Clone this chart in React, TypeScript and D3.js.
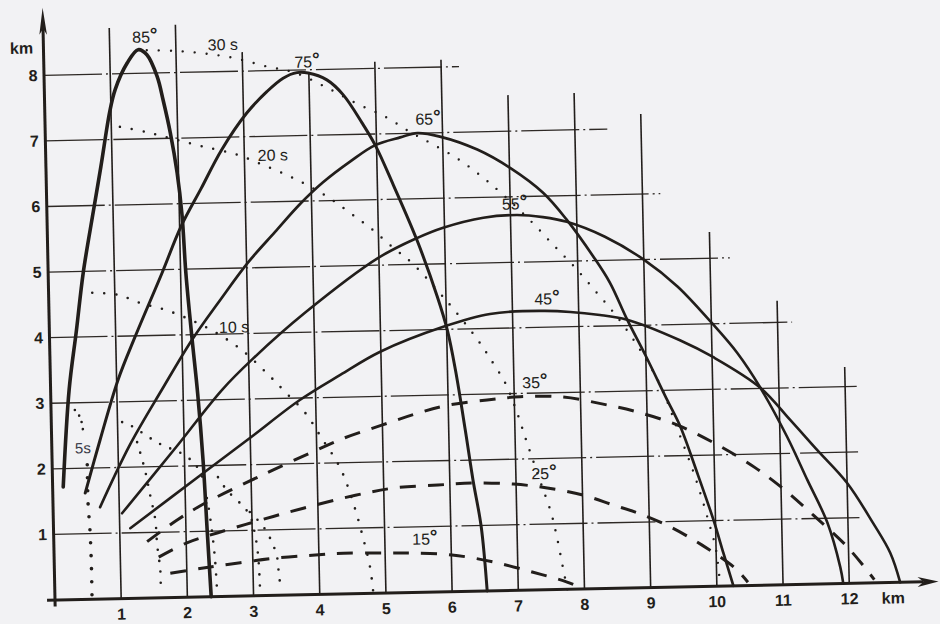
import React from 'react';
import * as d3 from 'd3';

type Pt = [number, number];

// Trajectories [horizontal distance km, height km] for each launch angle
const traj85: Pt[] = [[0.16,1.72],[0.28,3.20],[0.41,4.11],[0.53,4.98],[0.70,5.90],[0.83,6.59],[0.98,7.42],[1.07,7.76],[1.26,8.16],[1.43,8.36],[1.56,8.28],[1.71,7.94],[1.79,7.59],[1.89,7.08],[1.98,6.47],[2.04,5.83],[2.08,4.94],[2.15,3.97],[2.22,3.10],[2.28,2.09],[2.32,1.02],[2.36,0]];
const traj75: Pt[] = [[0.49,1.62],[0.73,2.42],[1.02,3.33],[1.29,3.98],[1.72,4.95],[2.02,5.65],[2.34,6.23],[2.66,6.81],[3.05,7.36],[3.36,7.68],[3.61,7.88],[3.82,7.96],[3.99,7.95],[4.27,7.84],[4.51,7.61],[4.79,7.17],[4.98,6.83],[5.24,6.22],[5.58,5.37],[5.87,4.50],[6.01,3.99],[6.12,3.38],[6.25,2.46],[6.35,1.70],[6.46,0.98],[6.53,0]];
const traj65: Pt[] = [[0.71,1.40],[1.18,2.34],[1.68,3.17],[2.15,3.92],[2.59,4.52],[3.02,5.08],[3.44,5.54],[3.83,5.96],[4.18,6.28],[4.60,6.59],[4.98,6.83],[5.36,6.94],[5.62,7.00],[5.96,6.94],[6.52,6.73],[7.01,6.44],[7.50,6.05],[7.85,5.63],[8.24,5.06],[8.48,4.66],[8.73,4.09],[9.00,3.53],[9.31,2.85],[9.50,2.44],[9.74,1.73],[9.97,1.01],[10.11,0.50],[10.25,0]];
const traj55: Pt[] = [[1.04,1.30],[1.86,2.27],[2.59,3.15],[3.05,3.60],[3.87,4.30],[4.99,5.11],[5.58,5.40],[5.98,5.55],[6.59,5.69],[7.10,5.72],[7.49,5.68],[7.85,5.60],[8.42,5.36],[9.00,5.00],[9.50,4.58],[10.00,4.02],[10.38,3.55],[10.72,3.01],[11.11,2.25],[11.40,1.59],[11.69,0.93],[11.87,0.25],[11.91,0]];
const traj45: Pt[] = [[1.16,1.07],[2.23,1.85],[3.00,2.41],[3.76,2.97],[4.38,3.34],[4.99,3.68],[5.95,4.04],[6.66,4.22],[7.49,4.25],[8.32,4.17],[8.73,4.09],[9.52,3.76],[10.02,3.49],[10.72,3.01],[11.16,2.51],[11.56,2.04],[12.00,1.53],[12.38,0.91],[12.63,0.45],[12.77,0]];
const traj35: Pt[] = [[1.41,0.86],[1.87,1.18],[2.30,1.43],[2.91,1.72],[3.33,1.91],[3.90,2.16],[4.43,2.38],[4.99,2.56],[5.50,2.72],[5.98,2.84],[6.59,2.91],[7.09,2.95],[7.74,2.93],[8.34,2.81],[8.85,2.68],[9.45,2.47],[10.06,2.15],[10.62,1.79],[11.06,1.44],[11.48,1.05],[11.98,0.56],[12.38,0.05]];
const traj25: Pt[] = [[1.58,0.62],[2.01,0.83],[2.47,0.97],[3.12,1.15],[3.78,1.32],[4.57,1.50],[5.17,1.60],[5.82,1.63],[6.35,1.65],[6.96,1.62],[7.47,1.55],[8.01,1.43],[8.46,1.27],[8.83,1.14],[9.31,0.92],[9.79,0.63],[10.28,0.27],[10.47,0.05]];
const traj15: Pt[] = [[1.75,0.37],[2.25,0.44],[2.81,0.51],[3.37,0.57],[3.90,0.60],[4.37,0.62],[4.97,0.61],[5.42,0.60],[6.01,0.56],[6.63,0.44],[7.23,0.27],[7.74,0.11],[7.98,0]];

// Positions reached after equal flight times (isochrones)
const iso30: Pt[] = [[1.56,8.35],[1.99,8.33],[2.44,8.28],[2.89,8.20],[3.34,8.07],[3.79,7.96],[4.27,7.72],[4.73,7.46],[5.14,7.26],[5.51,7.02],[5.84,6.83],[6.23,6.59],[6.60,6.30],[6.93,6.00],[7.30,5.63],[7.64,5.25],[7.96,4.90],[8.28,4.51],[8.59,4.12],[8.92,3.62],[9.21,3.08],[9.45,2.42],[9.71,1.66],[9.89,1.01],[10.00,0.55],[10.05,0]];
const iso20: Pt[] = [[1.13,7.19],[1.54,7.10],[1.93,6.99],[2.36,6.87],[2.89,6.73],[3.20,6.60],[3.56,6.44],[3.91,6.26],[4.24,6.06],[4.56,5.82],[4.88,5.57],[5.22,5.26],[5.50,5.02],[5.87,4.60],[6.10,4.32],[6.46,3.84],[6.68,3.49],[6.87,3.16],[7.04,2.70],[7.18,2.24],[7.36,1.67],[7.52,1.17],[7.60,0.80],[7.68,0.34],[7.74,0]];
const iso10: Pt[] = [[0.66,4.67],[1.05,4.63],[1.38,4.50],[1.75,4.39],[2.13,4.23],[2.52,4.02],[2.90,3.75],[3.27,3.39],[3.54,3.10],[3.84,2.77],[4.08,2.38],[4.35,1.92],[4.53,1.40],[4.67,0.86],[4.77,0.39],[4.81,0]];
const iso5Upper: Pt[] = [[0.36,2.89],[0.44,2.77],[0.48,2.55]];
const iso5Lower: Pt[] = [[0.53,2.05],[0.53,1.47],[0.55,1.06],[0.56,0.60],[0.56,0]];

// Short dotted fall lines near the vent
const fallA: Pt[] = [[1.07,2.69],[1.19,2.64],[1.61,2.36],[2.04,2.14],[2.23,1.91],[2.33,1.48],[2.39,1.02],[2.43,0.56],[2.45,0.10]];
const fallB: Pt[] = [[1.29,2.38],[1.40,1.95],[1.47,1.57],[1.54,1.19],[1.56,0.81],[1.60,0.42],[1.60,0.12]];
const fallC: Pt[] = [[2.50,1.82],[2.63,1.62],[2.85,1.39],[2.97,1.23],[3.03,1.00],[3.07,0.74],[3.09,0.47],[3.10,0.09]];
const fallD: Pt[] = [[2.97,1.28],[3.17,1.05],[3.30,0.80],[3.37,0.57],[3.39,0.31],[3.42,0.08]];

// Grid: km ticks and the extent of each grid line
const xTicks = [1, 2, 3, 4, 5, 6, 7, 8, 9, 10, 11, 12];
const verticalTops = [8.70, 8.73, 8.29, 7.95, 8.10, 8.11, 7.55, 7.56, 7.22, 5.40, 4.33, 3.30];
const yTicks = [1, 2, 3, 4, 5, 6, 7, 8];
const horizontalEnds = [12.23, 12.18, 12.20, 11.22, 10.30, 9.27, 8.49, 6.27];

// Curve annotations
const angleLabels = [
  { angle: 85, x: 1.48, y: 8.55 },
  { angle: 75, x: 3.92, y: 8.12 },
  { angle: 65, x: 5.73, y: 7.21 },
  { angle: 55, x: 7.01, y: 5.89 },
  { angle: 45, x: 7.47, y: 4.43 },
  { angle: 35, x: 7.26, y: 3.16 },
  { angle: 25, x: 7.37, y: 1.77 },
  { angle: 15, x: 5.55, y: 0.81 },
];
const timeLabels = [
  { text: '30 s', x: 2.71, y: 8.41 },
  { text: '20 s', x: 3.43, y: 6.71 },
  { text: '10 s', x: 2.79, y: 4.10 },
];
const ventLabel = { text: '5s', x: 0.47, y: 2.31 };

const INK = '#221e1b';
const FONT = '"Liberation Sans", Arial, Helvetica, sans-serif';

export default function App() {
  const W = 940;
  const H = 624;
  const x = d3.scaleLinear().domain([0, 13]).range([55, 55 + 13 * 66.2]);
  const y = d3.scaleLinear().domain([0, 9]).range([600, 600 - 9 * 65.6]);
  const line = d3
    .line<Pt>()
    .x((d) => x(d[0]))
    .y((d) => y(d[1]))
    .curve(d3.curveCatmullRom.alpha(0.5));

  const solid = [
    { d: traj85, w: 3.6 },
    { d: traj75, w: 3.0 },
    { d: traj65, w: 2.7 },
    { d: traj55, w: 2.6 },
    { d: traj45, w: 2.6 },
  ];
  const dashed = [traj35, traj25, traj15];
  const dotted = [
    { d: iso30, w: 2.4, gap: 12 },
    { d: iso20, w: 2.5, gap: 12 },
    { d: iso10, w: 2.6, gap: 12 },
    { d: iso5Upper, w: 2.6, gap: 7 },
    { d: iso5Lower, w: 3.6, gap: 13 },
    { d: fallA, w: 2.6, gap: 11 },
    { d: fallB, w: 2.6, gap: 11 },
    { d: fallC, w: 2.6, gap: 11 },
    { d: fallD, w: 2.6, gap: 11 },
  ];

  const x0 = x(0);
  const y0 = y(0);
  const yTip = y(9.03);
  const xTip = x(13.35);

  return (
    <svg
      width={W}
      height={H}
      viewBox={`0 0 ${W} ${H}`}
      style={{ position: 'absolute', left: 0, top: 0, display: 'block' }}
    >
      <rect width={W} height={H} fill="#f2f2f4" />
      <g transform={`rotate(-1.2, ${x0}, ${y0})`}>
        {/* horizontal grid, dash-dot */}
        {yTicks.map((k, i) => (
          <line
            key={`h${k}`}
            x1={x0}
            x2={x(horizontalEnds[i])}
            y1={y(k)}
            y2={y(k)}
            stroke="#2e2925"
            strokeWidth={1.3}
            strokeDasharray="58 4 2 4"
          />
        ))}
        {/* vertical grid */}
        {xTicks.map((k, i) => (
          <line
            key={`v${k}`}
            x1={x(k)}
            x2={x(k)}
            y1={y0}
            y2={y(verticalTops[i])}
            stroke={INK}
            strokeWidth={1.6}
          />
        ))}

        {/* axes */}
        <line x1={x0} x2={x0} y1={y(-0.1)} y2={yTip + 20} stroke={INK} strokeWidth={3} />
        <path
          d={`M${x0},${yTip} L${x0 - 3.8},${yTip + 27} L${x0},${yTip + 21} L${x0 + 3.8},${yTip + 27} Z`}
          fill={INK}
        />
        <line x1={x(-0.12)} x2={xTip - 15} y1={y0} y2={y0} stroke={INK} strokeWidth={3} />
        <path
          d={`M${xTip},${y0} L${xTip - 21},${y0 - 5} L${xTip - 15},${y0} L${xTip - 21},${y0 + 5} Z`}
          fill={INK}
        />

        {/* tick labels */}
        <g fontFamily={FONT} fontWeight="bold" fontSize={16} fill={INK}>
          {xTicks.map((k) => (
            <text key={`xt${k}`} x={x(k)} y={y0 + 15.5} textAnchor="middle" dominantBaseline="central">
              {k}
            </text>
          ))}
          <text x={x(12.66)} y={y0 + 15.5} textAnchor="middle" dominantBaseline="central">
            km
          </text>
          {yTicks.map((k) => (
            <text key={`yt${k}`} x={x0 - 11} y={y(k)} textAnchor="middle" dominantBaseline="central">
              {k}
            </text>
          ))}
          <text x={x0 - 22} y={y(8.42)} textAnchor="middle" dominantBaseline="central">
            km
          </text>
        </g>

        {/* isochrones */}
        {dotted.map((s, i) => (
          <path
            key={`dot${i}`}
            d={line(s.d) || ''}
            fill="none"
            stroke={INK}
            strokeWidth={s.w}
            strokeLinecap="round"
            strokeDasharray={`0 ${s.gap}`}
          />
        ))}

        {/* low-angle trajectories */}
        {dashed.map((s, i) => (
          <path
            key={`dash${i}`}
            d={line(s) || ''}
            fill="none"
            stroke={INK}
            strokeWidth={3}
            strokeDasharray="16 12"
          />
        ))}

        {/* high-angle trajectories */}
        {solid.map((s, i) => (
          <path
            key={`sol${i}`}
            d={line(s.d) || ''}
            fill="none"
            stroke={INK}
            strokeWidth={s.w}
            strokeLinecap="round"
          />
        ))}

        {/* annotations */}
        <g fontFamily={FONT} fontSize={16} fill={INK}>
          {angleLabels.map((l) => (
            <text key={`a${l.angle}`} x={x(l.x) - 9} y={y(l.y)} dominantBaseline="central">
              {l.angle}
              <tspan dy={-3} fontSize={19} fontWeight="bold">
                °
              </tspan>
            </text>
          ))}
          {timeLabels.map((l) => (
            <text key={l.text} x={x(l.x)} y={y(l.y)} textAnchor="middle" dominantBaseline="central">
              {l.text}
            </text>
          ))}
          <text
            x={x(ventLabel.x)}
            y={y(ventLabel.y)}
            textAnchor="middle"
            dominantBaseline="central"
            fontSize={15}
            fill="#3a3a48"
          >
            {ventLabel.text}
          </text>
        </g>
      </g>
    </svg>
  );
}
